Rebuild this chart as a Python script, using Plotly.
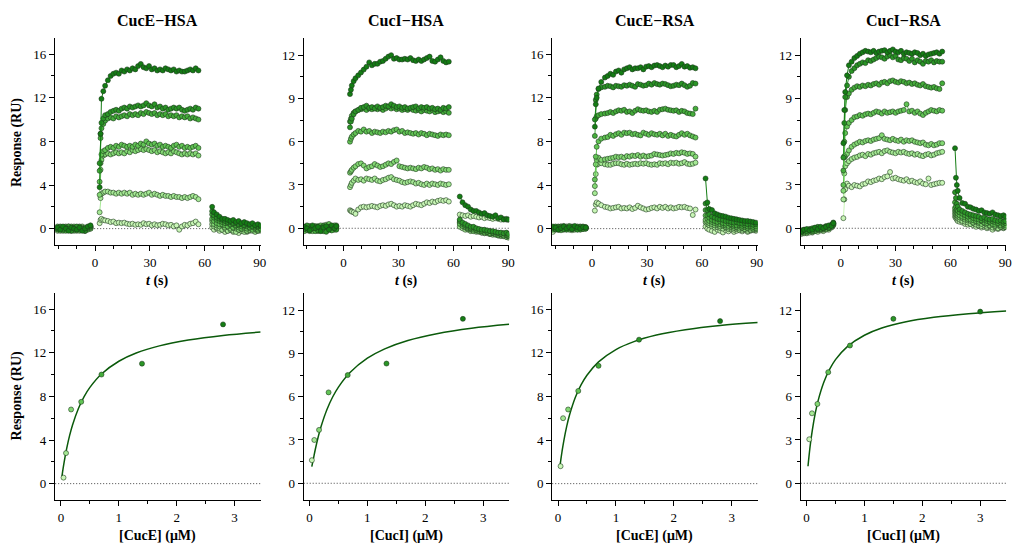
import plotly.graph_objects as go
from plotly.subplots import make_subplots

W, H = 1019, 545

# Shades from the lowest to the highest analyte concentration
SHADES = ['#c9f6b6', '#a6e995', '#84d874', '#62c455', '#45ad3b', '#2a9526', '#147d14']
EDGE = '#1d3b1d'
FIT = '#0b5a0b'
FONT = 'Liberation Serif'

TITLES = ['CucE−HSA', 'CucI−HSA', 'CucE−RSA', 'CucI−RSA']
XLABELS = ['[CucE] (μM)', '[CucI] (μM)', '[CucE] (μM)', '[CucI] (μM)']

# ---------------- CucE-HSA sensorgrams (lowest -> highest concentration) ----------------
T_BASE_EH = [-20.5, -19, -17.5, -16, -14.5, -13, -11.5, -10, -8.5, -7, -5.5, -4, -2.5]
T_ASSOC_EH = [2.5, 3, 3.5, 4.5, 5.5, 7, 8.5, 10, 11.5, 13, 14.5, 16, 17.5, 19, 20.5, 22, 23.5, 25,
              26.5, 28, 29.5, 31, 32.5, 34, 35.5, 37, 38.5, 40, 41.5, 43, 44.5, 46, 47.5, 49, 50.5,
              52, 53.5, 55, 56.5]
T_DISS_EH = [64, 65, 66.5, 68, 69.5, 71, 72.5, 74, 75.5, 77, 78.5, 80, 81.5, 83, 84.5, 86, 87.5, 89, 90.5]
BASE_EH = [
    [-0.2, 0.1, 0.0, -0.1, 0.1, -0.2, 0.0, 0.1, -0.1, 0.0, -0.2, 0.1, 0.0],
    [0.1, 0.0, -0.1, 0.0, 0.2, 0.1, -0.1, -0.2, 0.1, 0.2, -0.1, 0.0, 0.1],
    [0.0, -0.2, 0.1, 0.2, 0.0, -0.1, 0.2, -0.1, -0.2, 0.1, 0.0, 0.1, 0.0],
    [0.2, 0.0, -0.2, 0.1, -0.1, 0.2, -0.2, 0.1, 0.0, -0.1, 0.1, -0.1, 0.2],
    [-0.1, 0.1, 0.0, -0.2, 0.2, 0.0, -0.1, 0.0, 0.2, -0.1, -0.2, 0.0, 0.1],
    [0.0, 0.2, -0.1, 0.1, 0.0, -0.2, 0.1, 0.2, -0.1, 0.0, -0.2, 0.1, 0.2],
    [0.1, -0.1, 0.2, 0.0, -0.2, 0.1, 0.0, -0.1, 0.1, -0.2, 0.0, 0.2, 0.3],
]
ASSOC_EH = [
    [0.5, 0.8, 0.9, 0.8, 0.75, 0.7, 0.6, 0.65, 0.5, 0.55, 0.5, 0.55, 0.45, 0.4, 0.45, 0.35, 0.4, 0.35,
     0.5, 0.4, 0.45, 0.3, 0.4, 0.3, 0.35, 0.45, 0.4, 0.3, 0.35, 0.2, 0.3, -0.1, 0.2, 0.35, 0.3, 0.45,
     0.5, 0.65, 0.4],
    [1.5, 2.8, 3.2, 3.3, 3.4, 3.4, 3.3, 3.3, 3.2, 3.3, 3.2, 3.3, 3.2, 3.3, 3.1, 3.2, 3.1, 3.2, 3.1, 3.2,
     3.3, 3.1, 3.2, 3.1, 3.0, 3.1, 3.0, 3.0, 2.9, 3.0, 2.9, 2.9, 2.8, 2.9, 2.8, 2.9, 3.0, 2.9, 2.7],
    [3.1, 5.4, 6.3, 6.7, 6.8, 6.9, 6.8, 6.9, 7.0, 6.9, 7.0, 6.9, 7.1, 7.0, 7.2, 7.1, 7.2, 7.3, 7.2, 7.3,
     7.2, 7.1, 7.2, 7.0, 7.1, 7.0, 6.9, 7.0, 6.9, 7.1, 7.0, 6.9, 6.8, 6.9, 6.8, 6.9, 6.8, 6.9, 6.7],
    [4.3, 6.0, 6.8, 7.1, 7.2, 7.4, 7.5, 7.4, 7.6, 7.5, 7.7, 7.6, 7.5, 7.6, 7.5, 7.7, 7.6, 7.8, 7.7, 8.0,
     7.8, 7.7, 7.8, 7.6, 7.7, 7.5, 7.6, 7.5, 7.4, 7.6, 7.7, 7.5, 7.6, 7.4, 7.5, 7.4, 7.5, 7.6, 7.4],
    [5.3, 8.3, 9.2, 9.6, 9.9, 10.1, 10.2, 10.1, 10.3, 10.2, 10.3, 10.4, 10.3, 10.5, 10.4, 10.5, 10.4,
     10.6, 10.5, 10.7, 10.6, 10.5, 10.6, 10.4, 10.5, 10.4, 10.5, 10.3, 10.4, 10.3, 10.4, 10.2, 10.3,
     10.2, 10.3, 10.1, 10.2, 10.1, 10.0],
    [6.0, 8.7, 9.7, 10.1, 10.4, 10.5, 10.7, 10.8, 10.9, 10.8, 11.0, 11.1, 11.0, 11.2, 11.1, 11.2, 11.3,
     11.2, 11.3, 11.5, 11.3, 11.2, 11.4, 11.1, 11.2, 11.0, 11.1, 10.9, 11.0, 11.1, 11.0, 11.1, 10.9,
     10.8, 10.9, 11.0, 10.9, 11.1, 11.0],
    [3.8, 8.7, 11.9, 12.6, 13.1, 13.6, 14.0, 14.2, 14.3, 14.2, 14.5, 14.4, 14.6, 14.5, 14.7, 14.6, 14.9,
     15.1, 14.8, 14.7, 14.9, 14.6, 14.7, 14.5, 14.6, 14.5, 14.7, 14.6, 14.5, 14.6, 14.4, 14.5, 14.4,
     14.4, 14.5, 14.6, 14.5, 14.7, 14.5],
]
DISS_EH = [
    [0.1, -0.1, 0.0, -0.2, -0.1, -0.3, -0.2, -0.1, -0.3, -0.2, -0.4, -0.2, -0.1, -0.3, -0.2, -0.1, -0.2, -0.1, -0.2],
    [0.4, 0.2, 0.1, 0.0, -0.1, 0.0, -0.2, -0.1, -0.2, -0.3, -0.1, -0.2, -0.3, -0.2, -0.1, -0.2, -0.3, -0.2, -0.1],
    [0.7, 0.4, 0.3, 0.2, 0.3, 0.1, 0.2, 0.0, 0.1, 0.0, -0.1, 0.0, -0.1, -0.2, -0.1, 0.0, -0.1, -0.2, -0.1],
    [0.9, 0.7, 0.5, 0.4, 0.4, 0.3, 0.2, 0.3, 0.1, 0.2, 0.1, 0.0, 0.1, 0.0, 0.1, -0.1, 0.0, -0.1, 0.0],
    [1.3, 1.0, 0.8, 0.7, 0.6, 0.5, 0.5, 0.4, 0.4, 0.3, 0.3, 0.2, 0.3, 0.2, 0.1, 0.2, 0.1, 0.1, 0.0],
    [1.6, 1.2, 1.0, 0.9, 0.8, 0.7, 0.6, 0.6, 0.5, 0.5, 0.4, 0.4, 0.3, 0.4, 0.3, 0.2, 0.3, 0.2, 0.2],
    [2.0, 1.5, 1.3, 1.1, 0.9, 0.9, 0.8, 0.7, 0.8, 0.6, 0.7, 0.5, 0.6, 0.5, 0.4, 0.5, 0.3, 0.4, 0.3],
]

# ---------------- CucI-HSA sensorgrams ----------------
T_BASE_IH = [-21.5, -20, -18.5, -17, -15.5, -14, -12.5, -11, -9.5, -8, -6.5, -5, -4]
T_ASSOC_IH = [3.5, 4, 4.5, 5.5, 6.5, 8, 9.5, 11, 12.5, 14, 15.5, 17, 18.5, 20, 21.5, 23, 24.5, 26,
              27.5, 29, 30.5, 32, 33.5, 35, 36.5, 38, 39.5, 41, 42.5, 44, 45.5, 47, 48.5, 50, 51.5,
              53, 54.5, 56, 57.5]
T_DISS_IH = [63.5, 65, 66.5, 68, 69.5, 71, 72.5, 74, 75.5, 77, 78.5, 80, 81.5, 83, 84.5, 86, 87.5, 89, 90]
BASE_IH = [
    [0.0, -0.15, 0.1, -0.1, 0.05, -0.2, 0.1, 0.0, -0.15, 0.1, -0.05, 0.1, 0.0],
    [-0.1, 0.05, -0.2, 0.1, 0.0, 0.15, -0.1, 0.2, 0.0, -0.1, 0.15, -0.05, 0.1],
    [0.1, -0.05, 0.0, -0.2, 0.15, 0.0, -0.15, 0.1, 0.25, 0.0, -0.1, 0.05, 0.2],
    [-0.2, 0.1, 0.05, 0.0, -0.1, 0.1, 0.2, -0.1, 0.0, 0.3, 0.1, -0.1, 0.0],
    [0.05, -0.1, 0.15, 0.1, -0.2, 0.0, 0.05, -0.2, 0.1, 0.0, -0.15, 0.2, 0.1],
    [-0.05, 0.2, -0.1, 0.0, 0.1, -0.15, 0.0, 0.15, -0.25, 0.1, 0.05, 0.0, -0.1],
    [0.1, 0.0, -0.15, 0.2, 0.0, 0.1, -0.2, 0.05, 0.15, -0.1, 0.2, 0.0, 0.15],
]
ASSOC_IH = [
    [1.25, 1.2, 1.15, 1.1, 1.0, 1.3, 1.45, 1.5, 1.45, 1.5, 1.55, 1.5, 1.45, 1.55, 1.6, 1.55, 1.65, 1.7,
     1.6, 1.5, 1.55, 1.5, 1.6, 1.55, 1.5, 1.6, 1.7, 1.65, 1.6, 1.7, 1.8, 1.75, 1.85, 1.8, 1.9, 1.95,
     1.9, 1.95, 1.85],
    [2.85, 3.0, 3.15, 3.3, 3.45, 3.35, 3.4, 3.3, 3.45, 3.4, 3.35, 3.45, 3.3, 3.25, 3.35, 3.4, 3.5, 3.55,
     3.4, 3.35, 3.3, 3.2, 3.15, 3.2, 3.25, 3.2, 3.1, 3.15, 3.05, 3.0, 3.1, 3.0, 3.1, 3.05, 3.0, 3.1,
     3.05, 3.0, 3.05],
    [3.85, 3.95, 4.05, 4.2, 4.3, 4.45, 4.5, 4.35, 4.15, 4.25, 4.3, 4.45, 4.35, 4.25, 4.3, 4.4, 4.5, 4.45,
     4.6, 4.7, 4.3, 4.25, 4.2, 4.15, 4.2, 4.15, 4.1, 4.2, 4.15, 4.25, 4.2, 4.1, 4.15, 4.05, 4.1, 4.0,
     4.1, 4.05, 4.05],
    [6.0, 6.2, 6.35, 6.5, 6.6, 6.75, 6.7, 6.85, 6.7, 6.75, 6.6, 6.7, 6.65, 6.6, 6.7, 6.65, 6.75, 6.7,
     6.8, 6.85, 6.7, 6.75, 6.6, 6.65, 6.6, 6.55, 6.6, 6.5, 6.6, 6.55, 6.45, 6.55, 6.5, 6.45, 6.4, 6.5,
     6.45, 6.5, 6.45],
    [7.4, 7.6, 7.8, 8.0, 8.1, 8.2, 8.25, 8.3, 8.2, 8.3, 8.25, 8.35, 8.25, 8.3, 8.2, 8.3, 8.4, 8.3, 8.35,
     8.25, 8.3, 8.2, 8.25, 8.2, 8.3, 8.2, 8.15, 8.2, 8.1, 8.2, 8.15, 8.1, 8.2, 8.05, 8.1, 8.15, 8.05,
     8.1, 8.0],
    [7.0, 7.4, 7.6, 7.9, 8.1, 8.2, 8.35, 8.4, 8.5, 8.35, 8.4, 8.3, 8.45, 8.35, 8.4, 8.5, 8.45, 8.6, 8.5,
     8.4, 8.45, 8.35, 8.4, 8.3, 8.35, 8.4, 8.45, 8.3, 8.4, 8.35, 8.4, 8.3, 8.35, 8.25, 8.3, 8.2, 8.35,
     8.3, 8.4],
    [9.3, 9.6, 9.9, 10.2, 10.4, 10.6, 10.8, 11.0, 11.2, 11.5, 11.3, 11.4, 11.4, 11.55, 11.6, 11.75, 11.9,
     12.0, 11.75, 11.8, 11.7, 11.7, 11.75, 11.7, 11.8, 11.65, 11.6, 11.7, 11.6, 11.7, 11.8, 11.9, 11.6,
     11.55, 11.7, 11.85, 11.6, 11.5, 11.55],
]
DISS_IH = [
    [0.95, 0.9, 0.85, 0.9, 0.8, 0.85, 0.8, 0.75, 0.8, 0.7, 0.75, 0.7, 0.65, 0.7, 0.65, 0.6, 0.65, 0.6, 0.6],
    [0.1, 0.0, -0.1, -0.1, -0.2, -0.15, -0.25, -0.2, -0.3, -0.35, -0.3, -0.4, -0.45, -0.4, -0.5, -0.55, -0.5, -0.6, -0.65],
    [0.4, 0.2, 0.05, -0.05, -0.1, -0.2, -0.15, -0.25, -0.3, -0.25, -0.35, -0.4, -0.35, -0.45, -0.5, -0.45, -0.55, -0.6, -0.55],
    [0.3, 0.15, 0.1, 0.0, -0.05, -0.1, -0.15, -0.2, -0.2, -0.3, -0.25, -0.35, -0.3, -0.4, -0.45, -0.4, -0.5, -0.5, -0.55],
    [0.5, 0.3, 0.2, 0.1, 0.0, 0.05, -0.1, -0.1, -0.2, -0.15, -0.25, -0.2, -0.3, -0.3, -0.35, -0.4, -0.35, -0.45, -0.5],
    [0.6, 0.4, 0.3, 0.2, 0.1, 0.1, 0.0, -0.05, -0.1, -0.1, -0.15, -0.2, -0.2, -0.25, -0.3, -0.3, -0.35, -0.3, -0.4],
    [2.2, 1.8, 1.6, 1.5, 1.3, 1.2, 1.2, 1.1, 1.0, 1.05, 0.9, 0.85, 0.8, 0.9, 0.7, 0.75, 0.6, 0.65, 0.6],
]

# ---------------- CucE-RSA sensorgrams ----------------
T_BASE_ER = [-21.5, -20, -18.5, -17, -15.5, -14, -12.5, -11, -9.5, -8, -6.5, -5, -3.5]
T_ASSOC_ER = [1.5, 2, 2.5, 3.5, 5, 7, 8.5, 10, 11.5, 13, 14.5, 16, 17.5, 19, 20.5, 22, 23.5, 25,
              26.5, 28, 29.5, 31, 32.5, 34, 35.5, 37, 38.5, 40, 41.5, 43, 44.5, 46, 47.5, 49, 50.5,
              52, 53.5, 55, 56.5]
T_DISS_ER = [62, 63, 64, 65.5, 67, 68.5, 70, 71.5, 73, 74.5, 76, 77.5, 79, 80.5, 82, 83.5, 85, 86.5, 88, 89.5]
BASE_ER = [
    [-0.3, 0.1, 0.0, 0.2, -0.1, 0.05, 0.1, -0.15, 0.0, 0.1, -0.05, 0.15, 0.05],
    [0.1, -0.1, 0.2, 0.0, 0.15, -0.05, 0.0, 0.2, -0.1, 0.05, 0.2, 0.0, 0.1],
    [0.0, 0.15, -0.1, 0.1, 0.0, 0.2, -0.1, 0.05, 0.15, -0.05, 0.1, 0.2, 0.0],
    [0.2, 0.0, 0.1, -0.15, 0.1, 0.0, 0.25, -0.05, 0.1, 0.0, -0.1, 0.05, 0.15],
    [-0.1, 0.2, 0.05, 0.0, 0.25, -0.1, 0.05, 0.1, 0.0, 0.2, 0.05, -0.05, 0.1],
    [0.05, -0.05, 0.15, 0.2, -0.05, 0.1, 0.0, 0.15, 0.05, -0.1, 0.15, 0.1, 0.0],
    [0.15, 0.1, -0.1, 0.05, 0.2, 0.0, 0.15, -0.05, 0.25, 0.1, 0.0, 0.15, 0.1],
]
ASSOC_ER = [
    [1.65, 2.2, 2.4, 2.3, 2.15, 2.0, 1.95, 1.85, 1.9, 1.95, 2.0, 1.85, 1.9, 1.85, 1.95, 1.8, 1.9, 2.1,
     1.95, 1.85, 1.75, 1.8, 1.9, 1.95, 1.85, 2.0, 1.9, 2.0, 1.85, 1.95, 1.85, 1.9, 2.0, 1.95, 2.0, 1.9,
     1.85, 1.25, 1.75],
    [3.25, 5.0, 5.85, 5.95, 6.0, 5.9, 5.85, 5.85, 5.95, 6.0, 6.0, 5.9, 5.85, 5.95, 5.85, 5.9, 5.95, 5.9,
     6.0, 5.95, 6.0, 5.9, 5.85, 5.9, 5.85, 6.0, 5.95, 6.0, 5.9, 6.05, 6.0, 6.05, 5.95, 6.0, 6.1, 5.95,
     5.9, 5.95, 6.05],
    [3.9, 5.9, 6.3, 6.5, 6.3, 6.35, 6.4, 6.45, 6.5, 6.6, 6.55, 6.6, 6.5, 6.65, 6.6, 6.7, 6.65, 6.75, 6.6,
     6.7, 6.6, 6.65, 6.7, 6.85, 6.8, 6.75, 6.7, 6.75, 6.8, 6.9, 6.85, 6.95, 6.9, 7.0, 6.95, 6.85, 6.9,
     6.85, 6.6],
    [4.5, 6.6, 7.5, 8.0, 8.25, 8.35, 8.4, 8.6, 8.5, 8.65, 8.75, 8.6, 8.8, 8.75, 8.8, 8.65, 8.7, 8.6,
     8.55, 8.8, 8.7, 8.6, 8.75, 8.65, 8.6, 8.7, 8.55, 8.7, 8.5, 8.6, 8.5, 8.45, 8.6, 8.75, 8.6, 8.7,
     8.55, 8.45, 8.35],
    [8.5, 10.1, 10.3, 10.4, 10.5, 10.55, 10.6, 10.7, 10.6, 10.75, 10.85, 10.8, 10.9, 10.7, 10.75, 10.6,
     10.8, 10.95, 10.85, 10.8, 10.85, 10.75, 10.7, 10.8, 10.7, 10.9, 10.95, 11.0, 10.9, 10.85, 10.8,
     10.85, 10.7, 10.8, 10.75, 10.6, 10.55, 10.5, 11.0],
    [10.0, 11.8, 12.3, 12.8, 12.95, 13.0, 13.1, 13.05, 12.95, 13.1, 13.05, 13.0, 13.15, 13.1, 13.2, 13.1,
     13.0, 13.25, 13.2, 13.1, 13.15, 13.3, 13.2, 13.35, 13.25, 13.2, 13.3, 13.25, 13.15, 13.05, 13.1,
     13.2, 13.15, 13.3, 13.15, 13.0, 13.1, 13.35, 13.3],
    [9.35, 11.4, 12.0, 12.85, 13.45, 13.85, 14.0, 14.2, 14.1, 14.4, 14.5, 14.3, 14.6, 14.7, 14.8, 14.6,
     14.7, 14.7, 14.8, 14.6, 14.85, 14.9, 14.8, 14.95, 15.0, 14.9, 14.8, 14.95, 14.85, 15.0, 15.0, 14.8,
     14.9, 15.1, 14.85, 14.9, 14.75, 14.8, 14.7],
]
DISS_ER = [
    [0.2, 0.0, -0.1, -0.2, -0.3, -0.1, -0.2, -0.35, -0.15, -0.25, -0.1, -0.3, -0.2, -0.1, -0.25, -0.15, -0.3, -0.2, -0.1, -0.2],
    [0.6, 0.4, 0.3, 0.2, 0.1, 0.15, 0.05, 0.0, 0.1, -0.05, 0.0, -0.1, -0.05, -0.15, -0.1, -0.05, -0.2, -0.1, -0.15, -0.1],
    [0.8, 0.6, 0.5, 0.4, 0.3, 0.35, 0.2, 0.25, 0.15, 0.1, 0.15, 0.05, 0.1, 0.0, 0.05, -0.05, 0.0, -0.1, 0.0, -0.05],
    [1.2, 0.9, 0.7, 0.6, 0.5, 0.45, 0.4, 0.35, 0.3, 0.25, 0.3, 0.2, 0.15, 0.2, 0.1, 0.15, 0.05, 0.1, 0.0, 0.05],
    [1.7, 1.2, 1.0, 0.8, 0.7, 0.6, 0.65, 0.5, 0.45, 0.5, 0.4, 0.35, 0.3, 0.35, 0.25, 0.3, 0.2, 0.25, 0.15, 0.2],
    [2.3, 1.7, 1.3, 1.1, 1.0, 0.9, 0.85, 0.8, 0.7, 0.7, 0.6, 0.55, 0.6, 0.5, 0.45, 0.5, 0.4, 0.45, 0.35, 0.4],
    [4.6, 2.4, 1.8, 1.7, 1.4, 1.3, 1.2, 1.15, 1.1, 1.0, 0.95, 0.9, 0.85, 0.8, 0.75, 0.7, 0.7, 0.65, 0.6, 0.55],
]

# ---------------- CucI-RSA sensorgrams ----------------
T_BASE_IR = [-21.5, -20, -18.5, -17, -15.5, -14, -12.5, -11, -9.5, -8, -6.5, -5, -4]
T_ASSOC_IR = [1.5, 2, 2.5, 3.5, 4.5, 6, 7.5, 9, 10.5, 12, 13.5, 15, 16.5, 18, 19.5, 21, 22.5, 24,
              25.5, 27, 28.5, 30, 31.5, 33, 34.5, 36, 37.5, 39, 40.5, 42, 43.5, 45, 46.5, 48, 49.5,
              51, 52.5, 54, 55.5]
T_DISS_IR = [62.5, 63, 63.5, 64, 65, 66.5, 68, 69.5, 71, 72.5, 74, 75.5, 77, 78.5, 80, 81.5, 83, 84.5,
             86, 87.5, 89, 90]
BASE_IR = [
    [-0.4, -0.3, -0.35, -0.2, -0.3, -0.15, -0.25, -0.1, -0.2, 0.0, -0.1, 0.1, 0.2],
    [-0.3, -0.2, -0.25, -0.3, -0.1, -0.2, -0.05, -0.15, 0.0, -0.1, 0.1, 0.05, 0.3],
    [-0.2, -0.35, -0.15, -0.2, -0.25, -0.05, -0.15, 0.0, -0.1, 0.05, 0.0, 0.2, 0.35],
    [-0.25, -0.1, -0.3, -0.15, -0.05, -0.2, 0.0, -0.1, 0.05, -0.05, 0.15, 0.1, 0.25],
    [-0.15, -0.25, -0.1, -0.05, -0.2, 0.0, -0.1, 0.05, -0.05, 0.1, 0.0, 0.25, 0.3],
    [-0.3, -0.15, -0.2, -0.1, 0.0, -0.1, 0.1, -0.05, 0.05, 0.15, 0.05, 0.2, 0.4],
    [-0.2, -0.1, -0.05, -0.15, -0.1, 0.05, -0.05, 0.1, 0.0, 0.1, 0.2, 0.15, 0.35],
]
ASSOC_IR = [
    [0.7, 2.0, 2.7, 3.1, 2.95, 2.85, 3.0, 2.95, 2.9, 3.05, 3.1, 3.25, 3.2, 3.3, 3.35, 3.45, 3.4, 3.55,
     3.6, 3.9, 3.45, 3.5, 3.4, 3.35, 3.3, 3.4, 3.25, 3.3, 3.2, 3.15, 3.25, 3.1, 3.05, 3.45, 3.0, 3.05,
     3.1, 3.15, 3.15],
    [2.0, 3.8, 4.3, 4.5, 4.65, 4.8, 4.9, 4.95, 5.05, 5.1, 5.0, 5.15, 5.1, 5.2, 5.25, 5.3, 5.2, 5.35, 5.4,
     5.3, 5.25, 5.2, 5.3, 5.25, 5.3, 5.2, 5.15, 5.2, 5.1, 5.15, 5.05, 5.0, 5.1, 5.15, 5.05, 5.1, 5.2,
     5.25, 5.3],
    [2.6, 4.9, 5.0, 5.15, 5.4, 5.65, 5.8, 5.9, 6.0, 5.95, 6.05, 6.1, 6.05, 6.15, 6.2, 6.25, 6.45, 6.2,
     6.15, 6.1, 6.2, 6.1, 6.05, 6.15, 6.0, 6.1, 6.05, 6.1, 6.0, 5.95, 5.9, 5.95, 5.8, 5.75, 5.85, 5.75,
     5.8, 5.9, 5.9],
    [3.0, 5.0, 6.6, 7.05, 7.3, 7.5, 7.7, 7.75, 7.85, 7.8, 7.9, 7.95, 7.9, 8.0, 8.1, 8.05, 7.95, 8.1, 8.0,
     8.05, 8.1, 8.0, 8.1, 8.15, 8.2, 8.6, 8.1, 8.15, 8.0, 8.1, 7.95, 7.85, 8.0, 8.1, 8.2, 8.15, 8.1,
     8.2, 8.15],
    [4.0, 6.0, 8.2, 9.1, 9.35, 9.6, 9.75, 9.85, 9.8, 9.9, 9.85, 9.95, 9.9, 10.0, 10.05, 9.95, 10.1, 10.15,
     10.05, 10.2, 10.25, 10.15, 10.1, 10.2, 10.15, 10.05, 10.1, 10.0, 10.05, 9.95, 9.9, 10.0, 9.85, 9.8,
     9.75, 9.8, 9.7, 9.65, 10.05],
    [4.9, 7.3, 9.1, 9.9, 10.5, 10.9, 11.1, 11.3, 11.4, 11.5, 11.45, 11.65, 11.6, 11.7, 11.8, 11.9, 11.85,
     11.75, 11.9, 12.0, 11.85, 11.95, 11.7, 11.65, 11.8, 11.75, 11.6, 11.75, 11.5, 11.65, 11.55, 11.4,
     11.6, 11.55, 11.65, 11.5, 11.6, 11.55, 11.55],
    [5.9, 8.2, 9.45, 10.6, 11.3, 11.55, 11.8, 11.95, 12.1, 12.2, 12.3, 12.25, 12.2, 12.3, 12.15, 12.25,
     12.3, 12.35, 12.2, 12.3, 12.4, 12.25, 12.2, 12.3, 12.1, 12.2, 12.15, 12.1, 12.2, 12.15, 12.0, 12.1,
     11.95, 12.05, 12.1, 12.15, 12.2, 12.1, 12.25],
]
DISS_IR = [
    [0.8, 0.7, 0.6, 0.5, 0.45, 0.4, 0.3, 0.25, 0.3, 0.2, 0.1, 0.15, 0.05, 0.1, 0.0, 0.05, -0.1, 0.0, -0.05, 0.05, 0.0, 0.1],
    [1.0, 0.85, 0.75, 0.7, 0.6, 0.5, 0.45, 0.4, 0.3, 0.35, 0.25, 0.2, 0.15, 0.2, 0.1, 0.15, 0.05, 0.1, 0.0, 0.1, 0.05, 0.1],
    [1.2, 1.0, 0.9, 0.85, 0.75, 0.7, 0.6, 0.55, 0.5, 0.4, 0.45, 0.35, 0.3, 0.35, 0.25, 0.2, 0.25, 0.15, 0.2, 0.1, 0.15, 0.1],
    [1.4, 1.2, 1.1, 1.0, 0.9, 0.8, 0.75, 0.65, 0.6, 0.55, 0.5, 0.45, 0.5, 0.4, 0.35, 0.4, 0.3, 0.25, 0.3, 0.2, 0.25, 0.2],
    [1.8, 1.5, 1.3, 1.2, 1.1, 1.0, 0.9, 0.8, 0.85, 0.7, 0.65, 0.6, 0.55, 0.6, 0.5, 0.45, 0.5, 0.4, 0.35, 0.4, 0.3, 0.35],
    [2.5, 2.1, 1.7, 1.5, 1.3, 1.2, 1.1, 1.0, 0.95, 0.9, 0.85, 0.8, 0.7, 0.75, 0.65, 0.6, 0.65, 0.55, 0.5, 0.55, 0.45, 0.5],
    [5.55, 3.5, 3.0, 2.6, 2.1, 1.75, 1.7, 1.5, 1.45, 1.35, 1.3, 1.2, 1.25, 1.1, 1.05, 1.0, 1.1, 0.95, 0.9, 0.85, 0.9, 0.8],
]

# ---------------- Steady-state responses and fitted binding curves ----------------
CONC_EH = [0.044, 0.0875, 0.175, 0.35, 0.7, 1.4, 2.8]
RESP_EH = [0.55, 2.8, 6.8, 7.5, 10.0, 11.0, 14.6]
CONC_IH = [0.041, 0.083, 0.165, 0.33, 0.66, 1.33, 2.65]
RESP_IH = [1.6, 3.0, 3.7, 6.3, 7.5, 8.3, 11.4]
CONC_ER = [0.044, 0.0875, 0.175, 0.35, 0.7, 1.4, 2.8]
RESP_ER = [1.6, 6.0, 6.8, 8.5, 10.8, 13.2, 14.9]
CONC_IR = [0.047, 0.094, 0.1875, 0.375, 0.75, 1.5, 3.0]
RESP_IR = [3.05, 4.85, 5.5, 7.7, 9.55, 11.4, 11.9]

FIT_X_EH = [0.017, 0.04, 0.07, 0.1, 0.15, 0.2, 0.3, 0.4, 0.5, 0.7, 1.0, 1.3, 1.7, 2.2, 2.8, 3.45]
FIT_Y_EH = [0.67, 1.49, 2.44, 3.26, 4.42, 5.38, 6.87, 7.97, 8.82, 10.05, 11.22, 11.97, 12.63, 13.16, 13.59, 13.90]
FIT_X_IH = [0.04, 0.07, 0.1, 0.15, 0.2, 0.3, 0.4, 0.5, 0.7, 1.0, 1.3, 1.7, 2.2, 2.8, 3.45]
FIT_Y_IH = [1.15, 1.74, 2.34, 3.21, 3.94, 5.10, 5.98, 6.67, 7.68, 8.67, 9.32, 9.90, 10.37, 10.75, 11.02]
FIT_X_ER = [0.03, 0.05, 0.07, 0.1, 0.15, 0.2, 0.3, 0.4, 0.5, 0.7, 1.0, 1.3, 1.7, 2.2, 2.8, 3.45]
FIT_Y_ER = [1.42, 2.24, 2.97, 3.93, 5.25, 6.31, 7.92, 9.07, 9.94, 11.16, 12.29, 13.0, 13.62, 14.11, 14.5, 14.77]
FIT_X_IR = [0.025, 0.05, 0.07, 0.1, 0.15, 0.2, 0.3, 0.4, 0.5, 0.7, 1.0, 1.3, 1.7, 2.2, 2.8, 3.45]
FIT_Y_IR = [1.18, 2.15, 2.83, 3.69, 4.84, 5.73, 7.02, 7.91, 8.57, 9.46, 10.26, 10.76, 11.18, 11.51, 11.76, 11.95]

SENSORGRAMS = [
    (T_BASE_EH, T_ASSOC_EH, T_DISS_EH, BASE_EH, ASSOC_EH, DISS_EH),
    (T_BASE_IH, T_ASSOC_IH, T_DISS_IH, BASE_IH, ASSOC_IH, DISS_IH),
    (T_BASE_ER, T_ASSOC_ER, T_DISS_ER, BASE_ER, ASSOC_ER, DISS_ER),
    (T_BASE_IR, T_ASSOC_IR, T_DISS_IR, BASE_IR, ASSOC_IR, DISS_IR),
]
STEADY = [
    (CONC_EH, RESP_EH, FIT_X_EH, FIT_Y_EH),
    (CONC_IH, RESP_IH, FIT_X_IH, FIT_Y_IH),
    (CONC_ER, RESP_ER, FIT_X_ER, FIT_Y_ER),
    (CONC_IR, RESP_IR, FIT_X_IR, FIT_Y_IR),
]
# y scales: CucE panels use 0-16 RU, CucI panels 0-12 RU
Y_RANGE = {'E': [-1.5, 17.45], 'I': [-1.16, 13.17]}
Y_TICKS = {'E': [0, 4, 8, 12, 16], 'I': [0, 3, 6, 9, 12]}
Y_MINOR = {'E': 2, 'I': 1.5}
KIND = ['E', 'I', 'E', 'I']


def seg(t, y):
    n = min(len(t), len(y))
    return list(t[:n]), list(y[:n])


fig = make_subplots(rows=2, cols=4)

for c in range(4):
    tb, ta, td, base, assoc, diss = SENSORGRAMS[c]
    for i in range(7):
        x1, y1 = seg(tb, base[i])
        x2, y2 = seg(ta, assoc[i])
        x3, y3 = seg(td, diss[i])
        fig.add_trace(go.Scatter(
            x=x1 + [None] + x2 + [None] + x3,
            y=y1 + [None] + y2 + [None] + y3,
            mode='lines+markers', connectgaps=False,
            line=dict(color=SHADES[i], width=1),
            marker=dict(size=5, color=SHADES[i], line=dict(color=EDGE, width=0.6)),
            showlegend=False, hoverinfo='skip'), row=1, col=c + 1)

    conc, resp, fx, fy = STEADY[c]
    fig.add_trace(go.Scatter(
        x=fx, y=fy, mode='lines', line=dict(color=FIT, width=1.5, shape='spline'),
        showlegend=False, hoverinfo='skip'), row=2, col=c + 1)
    fig.add_trace(go.Scatter(
        x=conc, y=resp, mode='markers',
        marker=dict(size=5, color=SHADES, line=dict(color=EDGE, width=0.6)),
        showlegend=False, hoverinfo='skip'), row=2, col=c + 1)


def px_x(p):
    return p / W


def px_y(p):
    return 1 - p / H


tick_font = dict(family=FONT, size=13, color='black')
axis_common = dict(showline=True, linecolor='black', linewidth=1.4, ticks='outside', ticklen=5,
                   tickwidth=1, tickcolor='black', showgrid=False, zeroline=False,
                   tickfont=tick_font)

layout_axes = {}
for r in range(2):
    for c in range(4):
        k = r * 4 + c + 1
        xa = 'xaxis' if k == 1 else f'xaxis{k}'
        ya = 'yaxis' if k == 1 else f'yaxis{k}'
        left = 55.5 + 250 * c
        xdom = [px_x(left), px_x(left + 206.7)]
        if r == 0:
            ydom = [px_y(245), px_y(38.3)]
            xcfg = dict(range=[-21.8, 90.5], tickvals=[0, 30, 60, 90],
                        minor=dict(dtick=10, tick0=0, ticks='outside', ticklen=3, tickwidth=1,
                                   tickcolor='black', showgrid=False))
        else:
            ydom = [px_y(500), px_y(293.3)]
            xcfg = dict(range=[-0.1, 3.45], tickvals=[0, 1, 2, 3],
                        minor=dict(dtick=0.5, tick0=0, ticks='outside', ticklen=3, tickwidth=1,
                                   tickcolor='black', showgrid=False))
        kind = KIND[c]
        ycfg = dict(range=Y_RANGE[kind], tickvals=Y_TICKS[kind],
                    minor=dict(dtick=Y_MINOR[kind], tick0=0, ticks='outside', ticklen=3,
                               tickwidth=1, tickcolor='black', showgrid=False))
        layout_axes[xa] = dict(domain=xdom, **axis_common, **xcfg)
        layout_axes[ya] = dict(domain=ydom, **axis_common, **ycfg)

shapes = []
for k in range(1, 9):
    xr = 'x domain' if k == 1 else f'x{k} domain'
    yr = 'y' if k == 1 else f'y{k}'
    shapes.append(dict(type='line', xref=xr, yref=yr, x0=0, x1=1, y0=0, y1=0,
                       line=dict(color='#444444', width=1, dash='1px,2px'), layer='below'))

annotations = []
for c in range(4):
    cx = px_x(158.75 + 250 * c)
    annotations.append(dict(text=f'<b>{TITLES[c]}</b>', x=cx, y=px_y(20.7), xref='paper',
                            yref='paper', showarrow=False, xanchor='center', yanchor='middle',
                            font=dict(family=FONT, size=16, color='black')))
    annotations.append(dict(text='<b><i>t</i> (s)</b>', x=cx, y=px_y(281), xref='paper',
                            yref='paper', showarrow=False, xanchor='center', yanchor='middle',
                            font=dict(family=FONT, size=14, color='black')))
    annotations.append(dict(text=f'<b>{XLABELS[c]}</b>', x=cx, y=px_y(536), xref='paper',
                            yref='paper', showarrow=False, xanchor='center', yanchor='middle',
                            font=dict(family=FONT, size=14, color='black')))
for yc in (142.5, 395.8):
    annotations.append(dict(text='<b>Response (RU)</b>', x=px_x(16.7), y=px_y(yc), xref='paper',
                            yref='paper', showarrow=False, textangle=-90, xanchor='center',
                            yanchor='middle', font=dict(family=FONT, size=14, color='black')))

fig.update_layout(
    width=W, height=H, margin=dict(l=0, r=0, t=0, b=0),
    paper_bgcolor='white', plot_bgcolor='white',
    font=dict(family=FONT, color='black'),
    shapes=shapes, annotations=annotations, showlegend=False,
    **layout_axes,
)

fig.write_html('out.html')
